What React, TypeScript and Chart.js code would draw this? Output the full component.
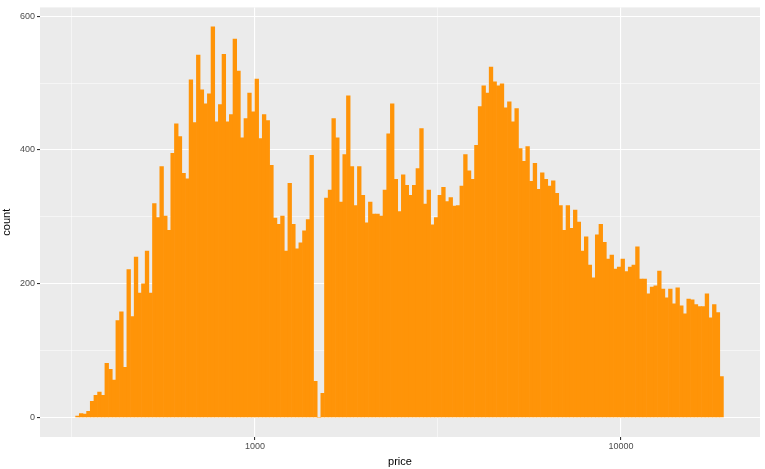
import { useEffect, useRef } from 'react';
import { Chart, registerables } from 'chart.js';

Chart.register(...registerables);

// histogram of price on a log10 scale, bin width 0.01 in log10 units
const firstBinCenter = 2.515;
const binWidth = 0.01;
const counts = [
  2, 6, 5, 9, 24, 33, 38, 33, 81, 72, 56, 145, 158, 75, 221, 151, 240, 186, 200, 249,
  186, 320, 299, 375, 301, 280, 395, 439, 420, 365, 357, 505, 441, 542,
  490, 469, 484, 584, 442, 468, 543, 442, 453, 566, 518, 418, 447, 485, 457, 506,
  417, 453, 444, 377, 298, 289, 301, 249, 350, 289, 252, 261, 279, 296, 392, 54, 0, 36, 328, 340,
  447, 418, 322, 393, 481, 375, 317, 375, 332, 291, 322, 304, 304, 301, 340, 424, 469, 356,
  308, 363, 347, 332, 347, 372, 432, 319, 340, 288, 299, 332, 344, 323, 329, 316, 317,
  346, 393, 369, 356, 407, 465, 496, 485, 524, 502, 496, 499, 463, 472, 442, 462, 402, 383,
  405, 353, 380, 341, 366, 356, 346, 354, 335, 317, 280, 317, 283, 310, 292, 249, 270, 228,
  209, 273, 289, 262, 237, 243, 222, 225, 237, 218, 225, 228, 255, 207, 207, 185, 195, 197,
  219, 192, 179, 192, 170, 194, 167, 155, 177, 176, 169, 166, 166, 185, 149, 169, 157, 61
];
const xBreaks = [2.5, 3, 3.5, 4];
const xLabelled = [3, 4];
const yBreaks = [0, 100, 200, 300, 400, 500, 600];
const yLabelled = [0, 200, 400, 600];

const panelBg = {
  id: 'panelBg',
  beforeDraw(chart: Chart) {
    const { ctx, chartArea } = chart;
    ctx.save();
    ctx.fillStyle = '#EBEBEB';
    ctx.fillRect(chartArea.left, chartArea.top, chartArea.right - chartArea.left, chartArea.bottom - chartArea.top);
    ctx.restore();
  }
};

export default function App() {
  const canvasRef = useRef<HTMLCanvasElement>(null);

  useEffect(() => {
    document.body.style.margin = '0';
    if (!canvasRef.current) return;
    const data = counts.map((c, i) => ({ x: firstBinCenter + i * binWidth, y: c }));
    const chart = new Chart(canvasRef.current, {
      type: 'bar',
      data: {
        datasets: [{
          data,
          backgroundColor: '#FF9408',
          barPercentage: 1,
          categoryPercentage: 1,
          borderWidth: 0
        }]
      },
      plugins: [panelBg],
      options: {
        responsive: false,
        animation: false,
        layout: { padding: { top: 5, right: 5, left: 0, bottom: 0 } },
        plugins: { legend: { display: false }, tooltip: { enabled: false } },
        scales: {
          x: {
            type: 'linear',
            offset: false,
            min: 2.4126,
            max: 4.38,
            afterBuildTicks: (s: any) => { s.ticks = xBreaks.map(v => ({ value: v })); },
            afterFit: (s: any) => { s.height = 32; },
            grid: {
              offset: false,
              color: '#FFFFFF',
              lineWidth: (c: any) => (xLabelled.includes(c.tick?.value) ? 1.1 : 0.5),
              tickLength: 3,
              tickColor: (c: any) => (xLabelled.includes(c.tick?.value) ? '#333333' : 'rgba(0,0,0,0)'),
              drawOnChartArea: true
            },
            border: { display: false },
            ticks: {
              color: '#4D4D4D',
              font: { family: 'Liberation Sans', size: 9 },
              padding: 1,
              maxRotation: 0,
              autoSkip: false,
              callback: (v: any) => (xLabelled.includes(v) ? String(Math.round(Math.pow(10, v))) : '')
            },
            title: {
              display: true,
              text: 'price',
              color: '#000000',
              font: { family: 'Liberation Sans', size: 11 },
              padding: { top: 0, bottom: 0 }
            }
          },
          y: {
            min: -29.2,
            max: 613.2,
            afterBuildTicks: (s: any) => { s.ticks = yBreaks.map(v => ({ value: v })); },
            afterFit: (s: any) => { s.width = 40; },
            grid: {
              color: '#FFFFFF',
              lineWidth: (c: any) => (yLabelled.includes(c.tick?.value) ? 1.1 : 0.5),
              tickLength: 3,
              tickColor: (c: any) => (yLabelled.includes(c.tick?.value) ? '#333333' : 'rgba(0,0,0,0)')
            },
            border: { display: false },
            ticks: {
              color: '#4D4D4D',
              font: { family: 'Liberation Sans', size: 9 },
              padding: 2,
              autoSkip: false,
              callback: (v: any) => (yLabelled.includes(v) ? String(v) : '')
            },
            title: {
              display: true,
              text: 'count',
              color: '#000000',
              font: { family: 'Liberation Sans', size: 11 },
              padding: { top: 0, bottom: 2 }
            }
          }
        }
      }
    });
    return () => chart.destroy();
  }, []);

  return <canvas ref={canvasRef} width={765} height={469} style={{ display: 'block', background: '#FFFFFF' }} />;
}
